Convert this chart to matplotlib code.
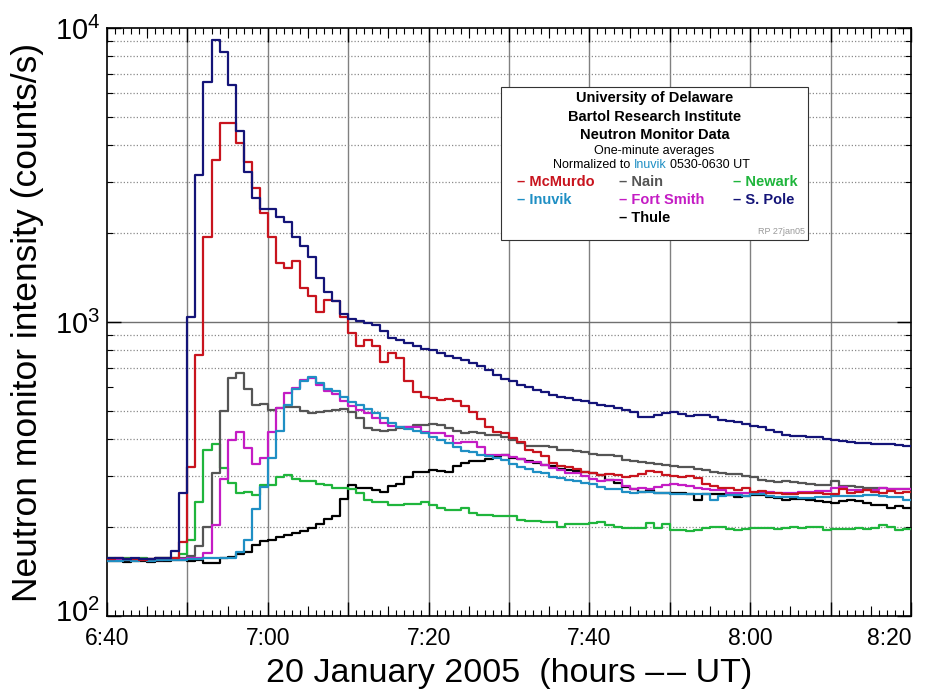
import numpy as np
import matplotlib
matplotlib.use("Agg")
import matplotlib.pyplot as plt
from matplotlib.patches import Rectangle
from matplotlib.transforms import ScaledTranslation
from matplotlib.ticker import FixedLocator, FuncFormatter, NullFormatter, LogFormatterSciNotation

plt.rcParams['font.family'] = ['Liberation Sans', 'DejaVu Sans']
plt.rcParams['mathtext.default'] = 'regular'

# one-minute averages, 6:40 .. 8:19 UT (minute index 0..99), counts/s
t0 = 400  # 6:40 in minutes after midnight

s_pole = [157, 157, 156, 157, 156, 156, 157, 158, 166, 262,
          1040, 3150, 6550, 9100, 8300, 6400, 4450, 3250, 2640, 2430,
          2430, 2275, 2190, 1940, 1815, 1658, 1412, 1265, 1175, 1065,
          1024, 1010, 995, 975, 930, 882, 870, 848, 826, 809,
          800, 784, 768, 754, 745, 726, 707, 684, 662, 640,
          628, 612, 601, 589, 576, 566, 556, 551, 544, 537,
          530, 523, 516, 510, 502, 494, 477, 477, 484, 490,
          494, 488, 480, 484, 482, 475, 465, 462, 456, 451,
          444, 438, 430, 422, 414, 410, 409, 405, 407, 400,
          398, 394, 391, 389, 387, 386, 386, 385, 382, 379]

mcmurdo = [156, 157, 156, 156, 155, 156, 157, 157, 158, 178,
           321, 770, 1950, 3560, 4750, 4750, 4060, 3500, 2850, 2350,
           1950, 1590, 1525, 1615, 1310, 1230, 1080, 1185, 1180, 1040,
           918, 826, 866, 826, 729, 784, 754, 632, 576, 556,
           551, 541, 548, 537, 516, 493, 466, 440, 424, 419,
           404, 390, 368, 360, 349, 331, 323, 320, 316, 310,
           306, 302, 303, 302, 298, 300, 305, 312, 308, 302,
           300, 298, 300, 294, 282, 276, 272, 272, 268, 272,
           264, 266, 263, 262, 261, 259, 262, 262, 263, 259,
           260, 271, 262, 265, 268, 264, 262, 266, 262, 265]

nain = [156, 156, 155, 156, 156, 155, 156, 156, 156, 157,
        160, 173, 201, 307, 497, 643, 671, 594, 523, 526,
        503, 510, 514, 512, 500, 492, 496, 500, 502, 505,
        495, 470, 435, 428, 426, 430, 436, 440, 445, 448,
        450, 446, 436, 426, 420, 424, 420, 414, 412, 407,
        398, 388, 379, 378, 378, 377, 368, 366, 365, 362,
        356, 352, 353, 350, 340, 336, 334, 332, 330, 326,
        323, 322, 320, 316, 314, 310, 306, 305, 304, 300,
        296, 290, 288, 286, 288, 286, 283, 282, 280, 279,
        288, 276, 276, 274, 273, 272, 272, 270, 270, 270]

newark = [157, 156, 157, 156, 157, 156, 157, 157, 158, 163,
          182, 244, 368, 385, 318, 283, 262, 264, 257, 278,
          279, 298, 302, 292, 288, 288, 282, 280, 273, 272,
          270, 262, 249, 245, 245, 238, 238, 241, 241, 245,
          238, 233, 229, 229, 233, 224, 221, 221, 218, 218,
          218, 212, 211, 211, 209, 209, 201, 206, 206, 206,
          207, 209, 204, 201, 199, 199, 199, 207, 199, 205,
          196, 196, 194, 196, 199, 201, 201, 198, 196, 198,
          199, 199, 199, 198, 199, 201, 199, 200, 200, 196,
          198, 198, 198, 199, 198, 199, 204, 201, 196, 198]

fort_smith = [155, 156, 156, 155, 156, 156, 155, 156, 156, 156,
              157, 158, 164, 204, 293, 398, 424, 373, 329, 345,
              422, 509, 573, 596, 637, 645, 612, 581, 567, 540,
              519, 503, 490, 472, 454, 444, 438, 438, 438, 421,
              419, 419, 410, 388, 390, 390, 377, 353, 353, 353,
              347, 341, 334, 334, 327, 319, 313, 306, 306, 300,
              292, 287, 290, 290, 276, 271, 272, 271, 274, 278,
              282, 280, 276, 273, 271, 269, 269, 263, 262, 262,
              263, 263, 265, 263, 263, 262, 265, 265, 267, 267,
              272, 274, 269, 268, 269, 269, 272, 270, 270, 270]

inuvik = [154, 154, 155, 154, 155, 154, 155, 155, 155, 155,
          156, 156, 157, 157, 158, 158, 165, 182, 232, 275,
          346, 425, 520, 594, 630, 650, 620, 592, 581, 555,
          535, 520, 505, 490, 470, 452, 440, 432, 426, 419,
          406, 396, 388, 376, 365, 360, 354, 350, 344, 338,
          328, 320, 316, 310, 306, 298, 294, 290, 287, 284,
          281, 275, 271, 270, 265, 263, 264, 264, 262, 262,
          260, 260, 259, 259, 259, 249, 255, 258, 258, 255,
          259, 259, 255, 254, 254, 253, 251, 251, 254, 254,
          255, 256, 255, 255, 258, 258, 255, 254, 254, 249]

thule = [154, 154, 153, 154, 154, 153, 154, 154, 155, 155,
         154, 155, 151, 152, 157, 159, 162, 165, 175, 180,
         182, 185, 188, 192, 194, 199, 206, 213, 218, 250,
         280, 273, 272, 268, 265, 277, 281, 298, 308, 310,
         313, 311, 309, 323, 331, 336, 336, 342, 349, 352,
         344, 341, 336, 331, 327, 323, 316, 313, 312, 310,
         306, 302, 290, 283, 274, 271, 264, 268, 262, 263,
         263, 262, 261, 249, 261, 261, 259, 257, 254, 255,
         257, 258, 254, 252, 249, 250, 250, 249, 247, 244,
         243, 246, 248, 246, 243, 238, 238, 233, 236, 233]

stations = ['Thule', 'Newark', 'Nain', 'Fort Smith', 'Inuvik', 'McMurdo', 'S. Pole']
series = [thule, newark, nain, fort_smith, inuvik, mcmurdo, s_pole]
colors = {'McMurdo': '#c8141e', 'Nain': '#555555', 'Newark': '#1fb53c',
          'Inuvik': '#1f8fc4', 'Fort Smith': '#c41cc4', 'S. Pole': '#141478',
          'Thule': '#000000'}

fig = plt.figure(figsize=(9.3, 6.96), dpi=100)
ax = fig.add_axes([107 / 930, 1 - 616 / 696, 804 / 930, 588 / 696])

x = np.arange(t0, t0 + 101)
for name, vals in zip(stations, series):
    y = np.append(vals, vals[-1])
    ax.plot(x, y, drawstyle='steps-post', color=colors[name], lw=1.6, zorder=3)

ax.set_yscale('log')
ax.set_ylim(100, 10000)
ax.set_xlim(t0, t0 + 100)

# grid: solid verticals every 10 min, solid at 10^3, dotted elsewhere
for gx in range(410, 500, 10):
    ax.axvline(gx, color='#808080', lw=1.0, zorder=1)
ax.axhline(1000, color='#707070', lw=1.0, zorder=1)
dotted_levels = [200, 300, 400, 500, 700, 800, 900,
                 2000, 3000, 4000, 5000, 6000, 7000, 8000, 9000]
for gy in dotted_levels:
    ax.axhline(gy, color='#8a8a8a', lw=0.9, ls=(0, (1, 1.6)), zorder=1)

# ticks
ax.xaxis.set_major_locator(FixedLocator(np.arange(400, 501, 10)))
ax.xaxis.set_minor_locator(FixedLocator(np.arange(400, 501, 1)))
ax.xaxis.set_major_formatter(FuncFormatter(
    lambda v, p: f"{int(v // 60)}:{int(v % 60):02d}" if int(v) % 20 == 0 else ""))
ax.yaxis.set_major_locator(FixedLocator([100, 1000, 10000]))
ax.yaxis.set_major_formatter(LogFormatterSciNotation())
ax.yaxis.set_minor_formatter(NullFormatter())
ax.tick_params(which='major', direction='in', length=10, width=1.0,
               top=True, right=True, labelsize=16.5, pad=8)
ax.tick_params(which='minor', direction='in', length=4, width=0.8,
               top=True, right=True)
ax.tick_params(axis='y', which='major', labelsize=21, pad=5)
for side in ['bottom', 'top']:
    sec = ax.secondary_xaxis(side)
    sec.set_xticks(np.arange(405, 500, 10))
    sec.xaxis.set_major_formatter(NullFormatter())
    sec.tick_params(direction='in', length=7, width=0.8)
    sec.spines[side].set_visible(False)
for sp in ax.spines.values():
    sp.set_linewidth(1.2)

fig.canvas.draw()
xlabels = ax.get_xticklabels()
xlabels[-1].set_horizontalalignment('right')
ylab0 = ax.yaxis.get_major_ticks()[0].label1
ylab0.set_transform(ylab0.get_transform() + ScaledTranslation(0, 4 / 72, fig.dpi_scale_trans))

ax.set_xlabel('20 January 2005  (hours \u2013\u200a\u2013 UT)', fontsize=24.5, labelpad=6)
ax.set_ylabel('Neutron monitor intensity (counts/s)', fontsize=25.5, labelpad=8)

# legend box
box = Rectangle((0.490, 0.6395), 0.382, 0.2602, transform=ax.transAxes,
                facecolor='white', edgecolor='#333333', lw=0.8, zorder=5)
ax.add_patch(box)
cx = 0.681
ax.text(cx, 0.8804, 'University of Delaware', transform=ax.transAxes, ha='center',
        va='center', fontsize=10.5, fontweight='bold', zorder=6)
ax.text(cx, 0.8492, 'Bartol Research Institute', transform=ax.transAxes, ha='center',
        va='center', fontsize=10.5, fontweight='bold', zorder=6)
ax.text(cx, 0.818, 'Neutron Monitor Data', transform=ax.transAxes, ha='center',
        va='center', fontsize=10.5, fontweight='bold', zorder=6)
ax.text(cx, 0.7913, 'One-minute averages', transform=ax.transAxes, ha='center',
        va='center', fontsize=9, zorder=6)
t1 = ax.text(0.5547, 0.767, 'Normalized to', transform=ax.transAxes, ha='left',
             va='center', fontsize=9, zorder=6)
t2 = ax.annotate('Inuvik', xy=(1, 0), xycoords=t1, xytext=(2.5, 0),
                 textcoords='offset points', va='bottom', fontsize=9,
                 color=colors['Inuvik'], zorder=6)
ax.annotate('0530-0630 UT', xy=(1, 0), xycoords=t2, xytext=(2.5, 0),
            textcoords='offset points', va='bottom', fontsize=9, zorder=6)

legend_cols = [0.510, 0.637, 0.779]
legend_rows = [0.7386, 0.7075, 0.6764]
legend_order = [['McMurdo', 'Nain', 'Newark'],
                ['Inuvik', 'Fort Smith', 'S. Pole'],
                [None, 'Thule', None]]
for r, row in enumerate(legend_order):
    for c, name in enumerate(row):
        if name is None:
            continue
        ax.text(legend_cols[c], legend_rows[r], '\u2013 ' + name, transform=ax.transAxes,
                ha='left', va='center', fontsize=10.5, fontweight='bold',
                color=colors[name], zorder=6)
ax.text(0.868, 0.6536, 'RP 27jan05', transform=ax.transAxes, ha='right', va='center',
        fontsize=6.5, color='#999999', zorder=6)

fig.savefig('out.png', dpi=100, facecolor='white')
